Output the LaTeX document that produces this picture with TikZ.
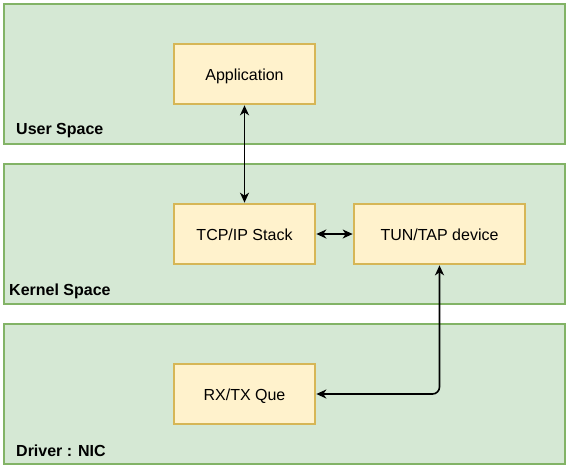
\documentclass[tikz,border=0pt]{standalone}
\usepackage{fontspec}
\setmainfont{Liberation Sans}
\usepackage{xcolor}
\usetikzlibrary{positioning,calc,arrows.meta}
\definecolor{layerFill}{HTML}{D5E8D4}
\definecolor{layerLine}{HTML}{82B366}
\definecolor{moduleFill}{HTML}{FFF2CC}
\definecolor{moduleLine}{HTML}{D6B656}
\tikzset{
  layerBox/.style={
    rectangle,
    draw=layerLine,
    fill=layerFill,
    line width=2.7pt,
    minimum width=561pt,
    minimum height=140pt
  },
  moduleBox/.style={
    rectangle,
    draw=moduleLine,
    fill=moduleFill,
    line width=2.7pt,
    minimum width=141pt,
    minimum height=60pt,
    text height=12pt,
    text depth=0pt,
    align=center
  },
  layerLabel/.style={
    anchor=west,
    inner sep=0pt,
    font=\fontsize{16}{19}\selectfont\bfseries
  },
  arrowLine/.style={
    {Stealth[length=10pt,width=9pt,inset=3pt]}-{Stealth[length=10pt,width=9pt,inset=3pt]},
    line width=1.6pt
  }
}
\begin{document}
\begin{tikzpicture}[
            x=1pt, y=-1pt,
            every node/.style={font=\fontsize{16}{19}\selectfont}
        ]
        \useasboundingbox (0,0) rectangle (569,469);

        % layers
        \node[layerBox] (user) at (284.5,74) {};
        \node[layerBox] (kernel) at (284.5,234) {};
        \node[layerBox] (driver) at (284.5,394) {};
        \node[layerLabel] (userLbl) at (16,131) {User Space};
        \node[layerLabel] (kernelLbl) at (9,291) {Kernel Space};
        \node[layerLabel] (driverLbl) at (16,451) {Driver : NIC};

        % modules
        \node[moduleBox] (app) at (244.5,74) {Application};
        \node[moduleBox] (tcpip) at (244.5,234) {TCP/IP Stack};
        \node[moduleBox, minimum width=171pt] (tuntap) at (439.5,234) {TUN/TAP device};
        \node[moduleBox] (rxtx) at (244.5,394) {RX/TX Que};

        % connections
        \draw[arrowLine] (app) -- (tcpip);
        \draw[arrowLine] (tcpip) -- (tuntap);
        \draw[arrowLine, rounded corners=7pt] (tuntap) |- (rxtx);

    \end{tikzpicture}
\end{document}
